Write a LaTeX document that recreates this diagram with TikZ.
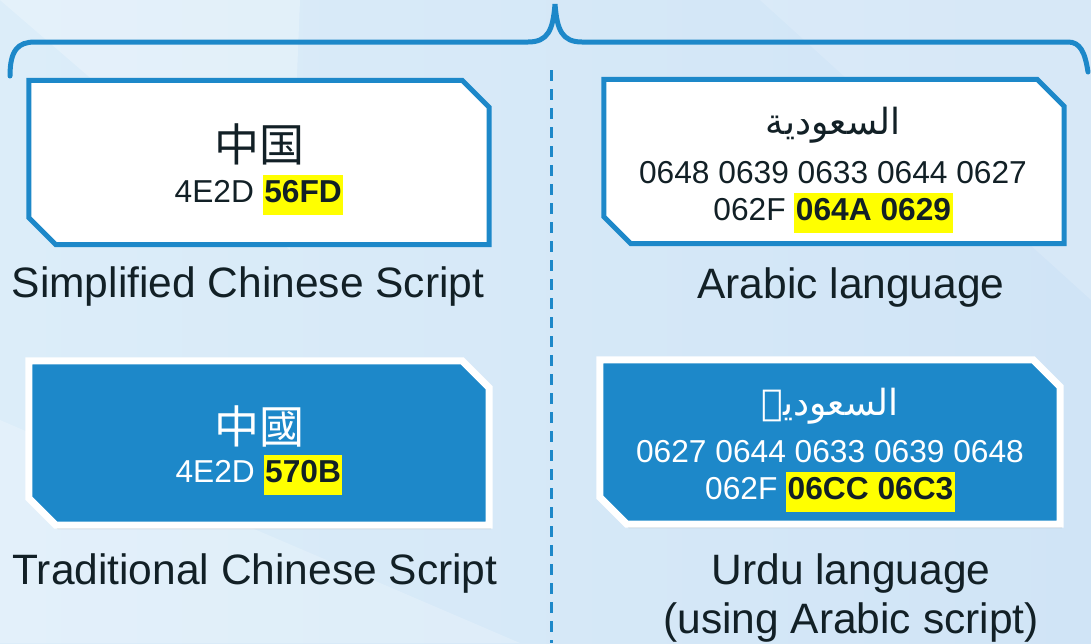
\documentclass[tikz,border=0pt]{standalone}
\usepackage{fontspec}
\setmainfont{Liberation Sans}
\newfontfamily\zhsc{Noto Sans CJK SC}
\newfontfamily\zhtc{Noto Sans CJK TC}
\newfontfamily\arabicfont[Script=Arabic]{DejaVu Sans}
\TeXXeTstate=1
\usepackage{xcolor}
\usepackage{tikz}
\usetikzlibrary{shadows,calc}
\definecolor{scriptblue}{RGB}{29,136,201}
\definecolor{bgblueA}{RGB}{220,237,249}
\definecolor{bgblueB}{RGB}{208,228,246}
\definecolor{inkdark}{RGB}{18,32,38}
\definecolor{marker}{RGB}{255,255,0}
\newcommand{\hilite}[1]{{\setlength{\fboxsep}{1.5pt}\colorbox{marker}{\color{inkdark}\bfseries\strut #1}}}

\begin{document}
\begin{tikzpicture}[
    x=1pt, y=-1pt,
    boxarea/.style={rectangle, inner sep=0pt, minimum width=460pt, minimum height=164pt},
    chamfer/.style={insert path={(#1.north west) -- ([xshift=-27pt]#1.north east)
        -- ([yshift=-27pt]#1.north east) -- (#1.south east) -- ([xshift=27pt]#1.south west)
        -- ([yshift=27pt]#1.south west) -- cycle}},
    outline/.style={draw=scriptblue, line width=5pt, fill=white},
    filled/.style={draw=white, line width=7pt, fill=scriptblue,
        drop shadow={shadow xshift=2pt, shadow yshift=-4pt, opacity=0.3, fill=black!60}},
    glyph/.style={font=\fontsize{45}{54}\selectfont, text=inkdark, inner sep=0pt},
    arab/.style={font=\fontsize{36}{42}\arabicfont, text=inkdark, inner sep=0pt},
    code/.style={font=\fontsize{31.7}{37}\selectfont, text=inkdark, align=center, inner sep=0pt},
    caption/.style={font=\fontsize{42.5}{49}\selectfont, text=inkdark, align=center, inner sep=0pt}
]
% background
\useasboundingbox (0,0) rectangle (1091,643);
\shade[left color=bgblueA, right color=bgblueB] (0,0) rectangle (1091,643);
\fill[white, opacity=0.25] (0,0) -- (300,0) -- (290,250) -- cycle;
\fill[white, opacity=0.2] (0,643) -- (0,420) -- (520,643) -- cycle;
\fill[white, opacity=0.2] (1091,0) -- (1180,0) -- (1091,520) -- cycle;
\fill[white, opacity=0.15] (760,0) -- (1200,0) -- (1091,300) -- cycle;

% brace and divider
\draw[scriptblue, line width=5pt, line cap=round]
    (10,76) .. controls (10,50) and (18,42) .. (35,42) -- (528,42)
    .. controls (548,42) and (553,30) .. (555,4)
    .. controls (557,30) and (562,42) .. (582,42) -- (1068,42)
    .. controls (1080,42) and (1085,52) .. (1088,72);
\coordinate (divtop) at (551,70);
\coordinate (divbot) at (551,643);
\draw[scriptblue, line width=3pt, dash pattern=on 11pt off 8pt] (divtop) -- (divbot);

% simplified chinese
\node[boxarea] (simpbox) at (259,162.5) {};
\path[outline, chamfer=simpbox];
\node[glyph] (simpzh) at (259,144) {\zhsc 中国};
\node[code] (simpcode) at (259,195) {4E2D \hilite{56FD}};
\node[caption] (simpcap) at (248,287) {Simplified Chinese Script};

% arabic
\node[boxarea] (arabbox) at (834,161.5) {};
\path[outline, chamfer=arabbox];
\node[arab] (arabtxt) at (833,125) {\beginR السعودية\endR};
\node[code] (arabcode) at (833,197) {0648 0639 0633 0644 0627\\062F \hilite{064A 0629}};
\node[caption] (arabcap) at (851,288) {Arabic language};

% traditional chinese
\node[boxarea] (tradbox) at (259,443) {};
\path[filled, chamfer=tradbox];
\node[glyph, text=white] (tradzh) at (259,426) {\zhtc 中國};
\node[code, text=white] (tradcode) at (259,475) {4E2D \hilite{570B}};
\node[caption] (tradcap) at (255,574) {Traditional Chinese Script};

% urdu
\node[boxarea] (urdubox) at (830,442) {};
\path[filled, chamfer=urdubox];
\node[arab, text=white] (urdutxt) at (830,406) {\beginR السعودیۃ\endR};
\node[code, text=white] (urducode) at (830,476) {0627 0644 0633 0639 0648\\062F \hilite{06CC 06C3}};
\node[caption] (urducap) at (851,598) {Urdu language\\(using Arabic script)};

\end{tikzpicture}
\end{document}
